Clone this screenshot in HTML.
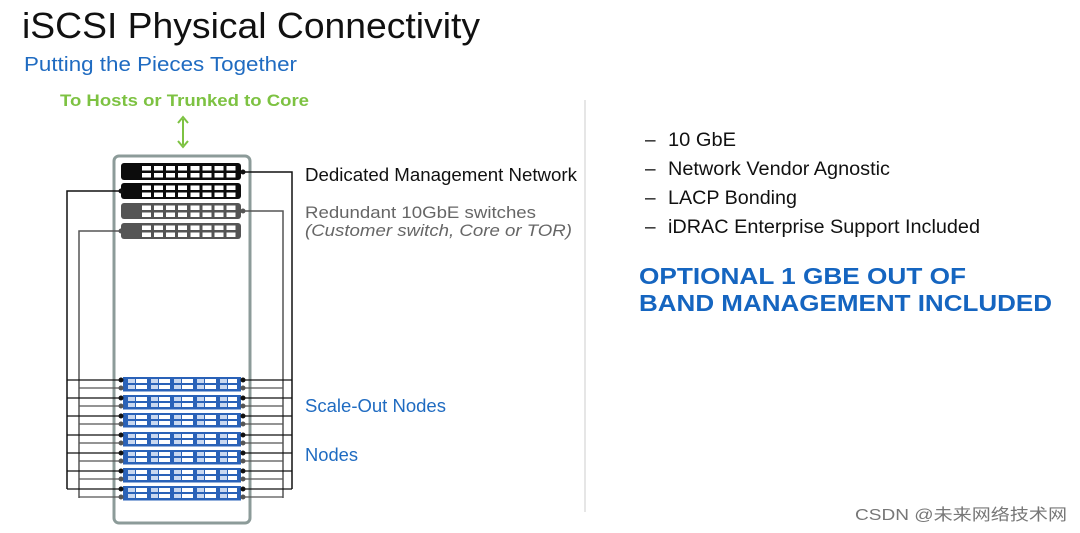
<!DOCTYPE html>
<html><head><meta charset="utf-8"><style>
html,body{margin:0;padding:0;background:#fff;}
svg{display:block;font-family:"Liberation Sans","Noto Sans CJK SC",sans-serif;}
</style></head><body>
<svg width="1080" height="533" viewBox="0 0 1080 533" xmlns="http://www.w3.org/2000/svg">
<defs>
<g id="nodebits">
<path fill="#c9d8f0" d="M128 2h7v4h-7zM151 2h7v4h-7zM174 2h7v4h-7zM197 2h7v4h-7zM220 2h7v4h-7zM128 8h7v4h-7zM151 8h7v4h-7zM174 8h7v4h-7zM197 8h7v4h-7zM220 8h7v4h-7z"/>
<path fill="#fff" d="M136 2h11v4h-11zM159 2h11v4h-11zM182 2h11v4h-11zM205 2h11v4h-11zM228 2h9v4h-9zM136 8h11v4h-11zM159 8h11v4h-11zM182 8h11v4h-11zM205 8h11v4h-11zM228 8h9v4h-9z"/>
</g>
<g id="node">
<line x1="67" y1="3" x2="121" y2="3" stroke="#111" stroke-width="1.3"/>
<line x1="79" y1="11" x2="121" y2="11" stroke="#555" stroke-width="1.3"/>
<line x1="241" y1="3" x2="292" y2="3" stroke="#111" stroke-width="1.3"/>
<line x1="241" y1="11" x2="283" y2="11" stroke="#555" stroke-width="1.3"/>
<rect x="123" y="0" width="118" height="14.5" fill="#2a62b8"/>
<use href="#nodebits"/>
<circle cx="121" cy="3" r="2.5" fill="#111"/><circle cx="121" cy="11" r="2.5" fill="#555"/>
<circle cx="243" cy="3" r="2.5" fill="#111"/><circle cx="243" cy="11" r="2.5" fill="#555"/>
</g>
<path id="ports" fill="#fff" d="M142 0h9v4.5h-9zM154 0h9v4.5h-9zM166 0h9v4.5h-9zM178 0h9v4.5h-9zM190.5 0h9v4.5h-9zM202.5 0h9v4.5h-9zM214.5 0h9v4.5h-9zM226.5 0h9v4.5h-9zM142 7h9v4.5h-9zM154 7h9v4.5h-9zM166 7h9v4.5h-9zM178 7h9v4.5h-9zM190.5 7h9v4.5h-9zM202.5 7h9v4.5h-9zM214.5 7h9v4.5h-9zM226.5 7h9v4.5h-9z"/>
</defs>
<text x="22" y="38" font-size="36" fill="#111" textLength="458" lengthAdjust="spacingAndGlyphs">iSCSI Physical Connectivity</text>
<text x="24" y="71" font-size="20" fill="#1f6bc1" textLength="273" lengthAdjust="spacingAndGlyphs">Putting the Pieces Together</text>
<text x="60" y="106" font-size="17" font-weight="bold" fill="#7dc242" textLength="249" lengthAdjust="spacingAndGlyphs">To Hosts or Trunked to Core</text>
<g stroke="#7dc242" stroke-width="2" fill="none"><line x1="183" y1="119" x2="183" y2="145"/><polyline points="178,123 183,117 188,123"/><polyline points="178,141 183,147 188,141"/></g>
<line x1="585" y1="100" x2="585" y2="512" stroke="#ccc" stroke-width="1"/>
<rect x="114" y="156" width="136" height="367" rx="5" fill="#fff" stroke="#8c9b99" stroke-width="3"/>
<g fill="none" stroke="#111" stroke-width="1.5">
<polyline points="121,191 67,191 67,489"/>
<polyline points="241,172 292,172 292,489"/>
</g>
<g fill="none" stroke="#555" stroke-width="1.5">
<polyline points="121,231 79,231 79,498"/>
<polyline points="241,211 283,211 283,498"/>
</g>
<use href="#node" transform="translate(0,377)"/>
<use href="#node" transform="translate(0,395)"/>
<use href="#node" transform="translate(0,413)"/>
<use href="#node" transform="translate(0,432)"/>
<use href="#node" transform="translate(0,450)"/>
<use href="#node" transform="translate(0,468)"/>
<use href="#node" transform="translate(0,486)"/>
<rect x="121" y="163" width="120" height="17" rx="3" fill="#0c0c0c"/>
<rect x="121" y="183" width="120" height="16" rx="3" fill="#0c0c0c"/>
<rect x="121" y="203" width="120" height="16" rx="3" fill="#555"/>
<rect x="121" y="223" width="120" height="16" rx="3" fill="#555"/>
<use href="#ports" transform="translate(0,166)"/>
<use href="#ports" transform="translate(0,185.5)"/>
<use href="#ports" transform="translate(0,205.5)"/>
<use href="#ports" transform="translate(0,225.5)"/>
<circle cx="243" cy="172" r="2.5" fill="#111"/>
<circle cx="121" cy="191" r="2.5" fill="#111"/>
<circle cx="243" cy="211" r="2.5" fill="#555"/>
<circle cx="121" cy="231" r="2.5" fill="#555"/>
<text x="305" y="181" font-size="18" fill="#111" textLength="272" lengthAdjust="spacingAndGlyphs">Dedicated Management Network</text>
<text x="305" y="218" font-size="17" fill="#666" textLength="231" lengthAdjust="spacingAndGlyphs">Redundant 10GbE switches</text>
<text x="305" y="236" font-size="17" font-style="italic" fill="#666" textLength="267" lengthAdjust="spacingAndGlyphs">(Customer switch, Core or TOR)</text>
<text x="305" y="412" font-size="18" fill="#1f6bc1" textLength="141" lengthAdjust="spacingAndGlyphs">Scale-Out Nodes</text>
<text x="305" y="461" font-size="18" fill="#1f6bc1" textLength="53" lengthAdjust="spacingAndGlyphs">Nodes</text>
<g font-size="19" fill="#111">
<text x="645" y="146">–</text><text x="668" y="146" textLength="68" lengthAdjust="spacingAndGlyphs">10 GbE</text>
<text x="645" y="175">–</text><text x="668" y="175" textLength="222" lengthAdjust="spacingAndGlyphs">Network Vendor Agnostic</text>
<text x="645" y="204">–</text><text x="668" y="204" textLength="129" lengthAdjust="spacingAndGlyphs">LACP Bonding</text>
<text x="645" y="233">–</text><text x="668" y="233" textLength="312" lengthAdjust="spacingAndGlyphs">iDRAC Enterprise Support Included</text>
</g>
<g font-size="23" font-weight="bold" fill="#1565c0">
<text x="639" y="284" textLength="327" lengthAdjust="spacingAndGlyphs">OPTIONAL 1 GBE OUT OF</text>
<text x="639" y="311" textLength="413" lengthAdjust="spacingAndGlyphs">BAND MANAGEMENT INCLUDED</text>
</g>
<text x="855" y="520" font-size="16" fill="#777" textLength="212" lengthAdjust="spacingAndGlyphs">CSDN @未来网络技术网</text>
</svg>
</body></html>
